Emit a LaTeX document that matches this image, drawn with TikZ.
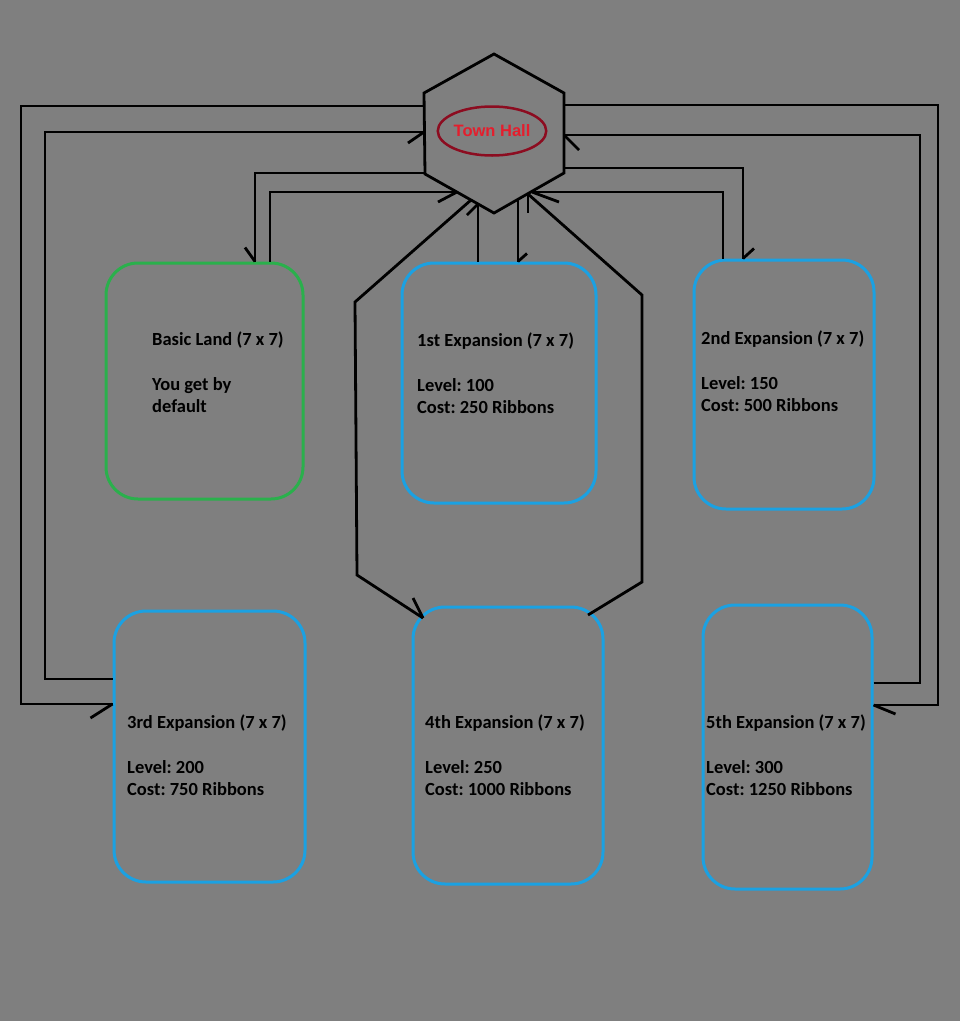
\documentclass[tikz,border=0pt]{standalone}
\usepackage{fontspec}
\setmainfont{Carlito}
\newfontfamily\arialfont{Liberation Sans}
\usetikzlibrary{shapes.geometric}
\definecolor{bg}{RGB}{127,127,127}
\definecolor{boxblue}{RGB}{27,161,226}
\definecolor{boxgreen}{RGB}{42,176,76}
\definecolor{thred}{RGB}{228,30,45}
\definecolor{thring}{RGB}{140,12,32}
\frenchspacing
\begin{document}
\begin{tikzpicture}[x=1pt,y=-1pt,
  conn/.style={draw=black,line width=2.8pt,line join=miter},
  barb/.style={draw=black,line width=2.8pt},
  land/.style={draw=boxblue,line width=3pt,rounded corners=32pt,inner sep=0pt},
  info/.style={anchor=base west,inner sep=0pt,font=\frenchspacing\bfseries\fontsize{18.5}{22.5}\selectfont,text=black}]
\fill[bg] (0,0) rectangle (960,1021);
\useasboundingbox (0,0) rectangle (960,1021);

% Town hall hexagon
\coordinate (hT) at (494,54);
\coordinate (hUL) at (424,93);
\coordinate (hLL) at (425,174);
\coordinate (hB) at (494,213);
\coordinate (hLR) at (564,173);
\coordinate (hUR) at (564,93);
\draw[conn] (hT) -- (hUR) -- (hLR) -- (hB) -- (hLL) -- (hUL) -- cycle;
\node[ellipse, draw=thring, line width=2.5pt, minimum width=105pt, minimum height=49pt,
      inner sep=0pt, font=\arialfont\bfseries\fontsize{16.5}{19}\selectfont, text=thred]
      (th) at (492,131) {Town Hall};

% connection points on the hexagon
\coordinate (hA1) at (424,106);
\coordinate (hA2) at (424,132);
\coordinate (hA3) at (425,173);
\coordinate (hA4) at (457,192);
\coordinate (hA5) at (478,204);
\coordinate (hA6) at (471,200);
\coordinate (hB1) at (564,105);
\coordinate (hB2) at (564,135);
\coordinate (hB3) at (564,168);
\coordinate (hB4) at (532,192);
\coordinate (hB5) at (518,200);
\coordinate (hB6) at (528,194);

% land boxes
\node[land, draw=boxgreen, minimum width=197pt, minimum height=236pt] (b0) at (204.5,381) {};
\node[land, minimum width=194pt, minimum height=240pt] (b1) at (499,383) {};
\node[land, minimum width=180pt, minimum height=249pt] (b2) at (784,384.5) {};
\node[land, minimum width=191pt, minimum height=271pt] (b3) at (209.5,746.5) {};
\node[land, minimum width=190pt, minimum height=277pt] (b4) at (508,745.5) {};
\node[land, minimum width=169pt, minimum height=284pt] (b5) at (787.5,747) {};

\coordinate (c4L) at (423,618);
\coordinate (c4R) at (588,615);

% texts
\node[info] (t0) at (152,345) {\begin{tabular}[t]{@{}l@{}}Basic Land (7 x 7)\\ \\You get by\\default\end{tabular}};
\node[info] (t1) at (417,346) {\begin{tabular}[t]{@{}l@{}}1st Expansion (7 x 7)\\ \\Level: 100\\Cost: 250 Ribbons\end{tabular}};
\node[info] (t2) at (701,344) {\begin{tabular}[t]{@{}l@{}}2nd Expansion (7 x 7)\\ \\Level: 150\\Cost: 500 Ribbons\end{tabular}};
\node[info] (t3) at (127,728) {\begin{tabular}[t]{@{}l@{}}3rd Expansion (7 x 7)\\ \\Level: 200\\Cost: 750 Ribbons\end{tabular}};
\node[info] (t4) at (425,728) {\begin{tabular}[t]{@{}l@{}}4th Expansion (7 x 7)\\ \\Level: 250\\Cost: 1000 Ribbons\end{tabular}};
\node[info] (t5) at (706,728) {\begin{tabular}[t]{@{}l@{}}5th Expansion (7 x 7)\\ \\Level: 300\\Cost: 1250 Ribbons\end{tabular}};

% 1: town hall -> 3rd
\draw[conn] (hA1) -- (21,106) -- (21,704) -- (b3.west |- 0,704);
\draw[barb] (b3.west |- 0,704) -- ++(-22,14);
% 2: 3rd -> town hall
\draw[conn] (b3.west |- 0,679) -- (45,679) -- (45,132) -- (hA2);
\draw[barb] (hA2) -- ++(-16,11);
% 3: town hall -> basic land
\draw[conn] (hA3) -- (255,173) -- (255,0 |- b0.north);
\draw[barb] (255,0 |- b0.north) -- ++(-10,-14);
% 4: basic land -> town hall
\draw[conn] (270,0 |- b0.north) -- (270,192) -- (hA4);
\draw[barb] (hA4) -- ++(-19,10);
% 5: town hall -> 1st
\draw[conn] (hB5) -- (hB5 |- b1.north);
\draw[barb] (hB5 |- b1.north) -- ++(9,-8);
% 6: 1st -> town hall
\draw[conn] (hA5 |- b1.north) -- (hA5);
\draw[barb] (hA5) -- ++(-11,11);
% 7: town hall -> 4th (left path)
\draw[conn] (hA6) -- (355,302) -- (357,575) -- (c4L);
\draw[barb] (c4L) -- ++(-10,-20);
% 8: 4th -> town hall (right path)
\draw[conn] (c4R) -- (642,582) -- (642,295) -- (hB6);
\draw[barb] (hB6) -- ++(0,19);
% 9: town hall -> 2nd
\draw[conn] (hB3) -- (743,168) -- (743,0 |- b2.north);
\draw[barb] (743,0 |- b2.north) -- ++(11,-10);
% 10: 2nd -> town hall
\draw[conn] (723,0 |- b2.north) -- (723,192) -- (hB4);
\draw[barb] (hB4) -- ++(27,10);
% 11: town hall -> 5th
\draw[conn] (hB1) -- (938,105) -- (938,705) -- (b5.east |- 0,705);
\draw[barb] (b5.east |- 0,705) -- ++(22,9);
% 12: 5th -> town hall
\draw[conn] (b5.east |- 0,683) -- (920,683) -- (920,135) -- (hB2);
\draw[barb] (hB2) -- ++(15,15);
\end{tikzpicture}
\end{document}
